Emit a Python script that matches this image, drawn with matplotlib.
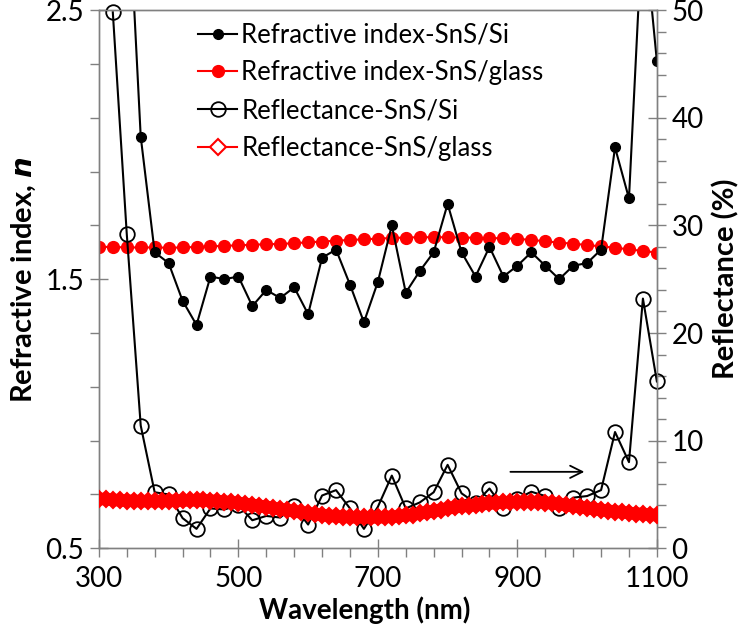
import matplotlib
matplotlib.use('Agg')
import matplotlib.pyplot as plt
from matplotlib.lines import Line2D
from matplotlib.ticker import MultipleLocator, FixedLocator

plt.rcParams['font.family'] = ['Lato', 'DejaVu Sans']

# ---- data ----
wl_20 = [300, 320, 340, 360, 380, 400, 420, 440, 460, 480, 500, 520, 540, 560,
         580, 600, 620, 640, 660, 680, 700, 720, 740, 760, 780, 800, 820, 840,
         860, 880, 900, 920, 940, 960, 980, 1000, 1020, 1040, 1060, 1080, 1100]

n_si = [3.6, 3.3, 3.05, 2.03, 1.60, 1.56, 1.42, 1.33, 1.51, 1.50, 1.51, 1.40,
        1.46, 1.43, 1.47, 1.37, 1.58, 1.61, 1.48, 1.34, 1.49, 1.70, 1.45, 1.53,
        1.60, 1.78, 1.60, 1.51, 1.62, 1.51, 1.55, 1.60, 1.55, 1.50, 1.55, 1.56,
        1.61, 1.99, 1.80, 2.85, 2.31]

n_glass = [1.620, 1.620, 1.618, 1.618, 1.618, 1.617, 1.618, 1.620, 1.622, 1.624,
           1.626, 1.628, 1.630, 1.631, 1.634, 1.637, 1.640, 1.643, 1.646, 1.648,
           1.651, 1.653, 1.655, 1.656, 1.656, 1.656, 1.655, 1.654, 1.653, 1.652,
           1.650, 1.646, 1.641, 1.636, 1.632, 1.627, 1.622, 1.617, 1.611, 1.605,
           1.599]

wl_r_si = wl_20[1:]
r_si = [49.8, 29.2, 11.4, 5.2, 5.0, 2.8, 1.8, 3.7, 3.6, 4.0, 2.6, 3.0, 2.85,
        3.9, 2.2, 4.9, 5.4, 3.7, 1.8, 3.85, 6.75, 3.7, 4.25, 5.2, 7.75, 5.1, 4.2,
        5.55, 3.75, 4.6, 5.25, 4.85, 3.7, 4.7, 4.85, 5.4, 10.8, 8.0, 23.2, 15.5]

wl_10 = [300, 310, 320, 330, 340, 350, 360, 370, 380, 390, 400, 410, 420, 430,
         440, 450, 460, 470, 480, 490, 500, 510, 520, 530, 540, 550, 560, 570,
         580, 590, 600, 610, 620, 630, 640, 650, 660, 670, 680, 690, 700, 710,
         720, 730, 740, 750, 760, 770, 780, 790, 800, 810, 820, 830, 840, 850,
         860, 870, 880, 890, 900, 910, 920, 930, 940, 950, 960, 970, 980, 990,
         1000, 1010, 1020, 1030, 1040, 1050, 1060, 1070, 1080, 1090, 1100]

r_glass = [4.60, 4.55, 4.50, 4.45, 4.42, 4.40, 4.38, 4.37, 4.37, 4.38, 4.40,
           4.42, 4.44, 4.45, 4.45, 4.44, 4.42, 4.38, 4.33, 4.27, 4.20, 4.12,
           4.03, 3.94, 3.84, 3.74, 3.63, 3.53, 3.43, 3.33, 3.24, 3.16, 3.08,
           3.02, 2.96, 2.92, 2.89, 2.87, 2.86, 2.86, 2.87, 2.89, 2.93, 2.98,
           3.05, 3.13, 3.23, 3.34, 3.46, 3.58, 3.70, 3.80, 3.89, 3.97, 4.04,
           4.10, 4.16, 4.21, 4.25, 4.28, 4.30, 4.31, 4.30, 4.28, 4.23, 4.17,
           4.10, 4.01, 3.92, 3.83, 3.73, 3.64, 3.56, 3.48, 3.41, 3.34, 3.28,
           3.22, 3.17, 3.12, 3.07]

labels = ['Refractive index-SnS/Si', 'Refractive index-SnS/glass',
          'Reflectance-SnS/Si', 'Reflectance-SnS/glass']

x_ticks = [300, 500, 700, 900, 1100]
n_ticks = [0.5, 1.5, 2.5]
r_ticks = [0, 10, 20, 30, 40, 50]

arrow_start = (886, 7.1)
arrow_end = (1000, 7.1)

# ---- figure ----
fig = plt.figure(figsize=(7.49, 6.36), dpi=100)
ax = fig.add_axes([0.132, 0.138, 0.745, 0.846])
ax2 = ax.twinx()

spine_c = '#808080'

h1, = ax.plot(wl_20, n_si, color='black', lw=1.5, marker='o', ms=7,
              mfc='black', mec='black', zorder=3)
h2, = ax.plot(wl_20, n_glass, color='red', lw=1.5, marker='o', ms=8.5,
              mfc='red', mec='red', zorder=2)

h3, = ax2.plot(wl_r_si, r_si, color='black', lw=1.5, marker='o', ms=10.5,
               mfc='none', mec='black', mew=1.3, zorder=2, clip_on=False)
ax2.plot(wl_10, r_glass, color='red', lw=9, marker='D', ms=8.5,
         mfc='red', mec='red', mew=1.5, zorder=3, solid_capstyle='butt')
h4 = Line2D([], [], color='red', lw=1.5, marker='D', ms=8, mfc='white',
            mec='red', mew=1.5)

ax2.annotate('', xy=arrow_end, xytext=arrow_start,
             arrowprops=dict(arrowstyle='->', color='black', lw=1.3,
                             mutation_scale=22))

ax.set_xlim(300, 1100)
ax.set_ylim(0.5, 2.5)
ax2.set_ylim(0, 50)

ax.xaxis.set_major_locator(FixedLocator(x_ticks))
ax.xaxis.set_minor_locator(MultipleLocator(40, offset=20))
ax.yaxis.set_major_locator(FixedLocator(n_ticks))
ax.yaxis.set_minor_locator(MultipleLocator(0.2, offset=0.1))
ax2.yaxis.set_major_locator(FixedLocator(r_ticks))
ax2.yaxis.set_minor_locator(MultipleLocator(2))
ax.set_yticklabels(['0.5', '1.5', '2.5'])

for a in (ax, ax2):
    for s in a.spines.values():
        s.set_color(spine_c)
        s.set_linewidth(1.0)
    a.tick_params(which='major', direction='inout', length=13, width=1.0,
                  color=spine_c, labelsize=20, labelcolor='black', pad=4)
    a.tick_params(which='minor', direction='out', length=6.5, width=1.0,
                  color=spine_c)

ax.tick_params(axis='x', which='major', pad=6)

ax.set_xlabel('Wavelength (nm)', fontsize=20, fontweight='bold')
ax.xaxis.set_label_coords(0.477, -0.09)
ax.set_ylabel('Refractive index, $\\mathbfit{n}$', fontsize=21,
              fontweight='bold')
ax.yaxis.set_label_coords(-0.109, 0.5)
ax2.set_ylabel('Reflectance (%)', fontsize=21, fontweight='bold')
ax2.yaxis.set_label_coords(1.0986, 0.5)

ax2.legend([h1, h2, h3, h4], labels, loc='upper left',
           bbox_to_anchor=(0.177, 0.977), frameon=False, fontsize=18.5,
           handlelength=1.55, handletextpad=0.15, labelspacing=0.5,
           borderpad=0, borderaxespad=0)

fig.savefig('out.png', dpi=100)
